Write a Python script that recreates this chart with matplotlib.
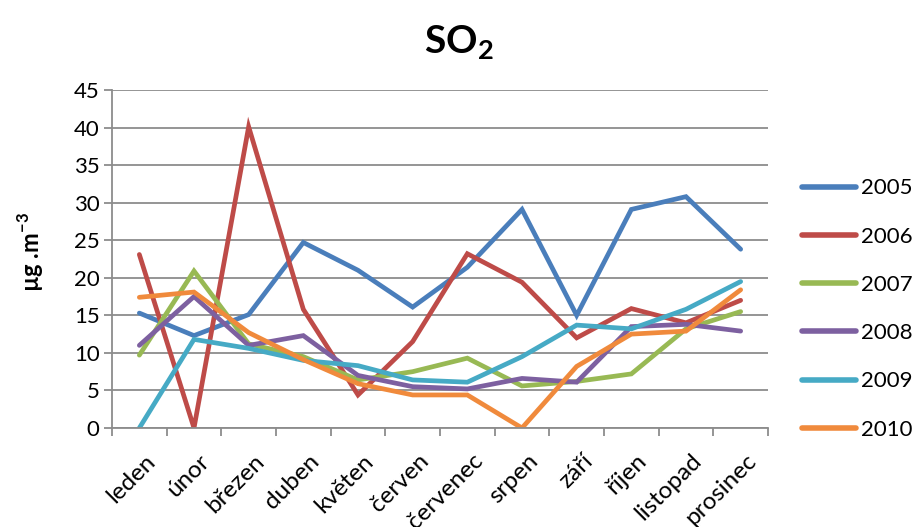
import matplotlib
matplotlib.use("Agg")
import matplotlib.pyplot as plt
import matplotlib.transforms as mtransforms
import numpy as np

plt.rcParams['font.family'] = ['Lato', 'DejaVu Sans']
plt.rcParams['mathtext.fontset'] = 'custom'
plt.rcParams['mathtext.rm'] = 'Lato'
plt.rcParams['mathtext.bf'] = 'Lato:bold'

months = ["leden", "únor", "březen", "duben", "květen", "červen",
          "červenec", "srpen", "září", "říjen", "listopad", "prosinec"]

so2_2005 = [15.3, 12.3, 15.1, 24.7, 21.0, 16.1, 21.4, 29.1, 15.0, 29.1, 30.8, 23.8]
so2_2006 = [23.1, 0.0, 40.1, 15.8, 4.4, 11.5, 23.2, 19.4, 12.0, 15.9, 14.0, 17.0]
so2_2007 = [9.7, 20.9, 11.2, 9.5, 6.4, 7.5, 9.3, 5.6, 6.2, 7.2, 13.2, 15.5]
so2_2008 = [11.0, 17.5, 11.0, 12.3, 7.0, 5.5, 5.2, 6.6, 6.1, 13.5, 13.8, 12.9]
so2_2009 = [0.0, 11.8, 10.6, 9.0, 8.3, 6.4, 6.1, 9.5, 13.7, 13.2, 15.8, 19.5]
so2_2010 = [17.4, 18.1, 12.7, 9.1, 5.9, 4.4, 4.4, 0.0, 8.2, 12.5, 12.9, 18.4]

years = ["2005", "2006", "2007", "2008", "2009", "2010"]
series = [so2_2005, so2_2006, so2_2007, so2_2008, so2_2009, so2_2010]
colors = ["#4A7EBB", "#BE4B48", "#98B954", "#7D60A0", "#46AAC5", "#F08A3C"]

fig = plt.figure(figsize=(9.18, 5.27), dpi=100)
ax = fig.add_axes([112 / 918, 1 - 428 / 527, (768 - 112) / 918, (428 - 90) / 527])

x = np.arange(len(months))
for vals, lab, col in zip(series, years, colors):
    ax.plot(x, vals, color=col, lw=3.4, label=lab, solid_capstyle='round',
            solid_joinstyle='miter')

grid_col = "#8C8C8C"
ax.set_xlim(-0.5, len(months) - 0.5)
ax.set_ylim(0, 45)
ax.set_yticks(np.arange(0, 46, 5))
ax.yaxis.grid(True, color=grid_col, lw=1.3)
ax.set_axisbelow(True)

# category boundaries carry the tick marks, centres carry the labels
ax.set_xticks(np.arange(-0.5, len(months), 1.0))
ax.set_xticklabels([])
ax.set_xticks(x, minor=True)
ax.set_xticklabels(months, minor=True, rotation=45, ha='right',
                   rotation_mode='anchor', fontsize=17.5)
ax.tick_params(axis='x', which='minor', length=0, pad=16)
ax.tick_params(axis='x', which='major', length=6, width=1.3, color=grid_col,
               direction='out')
ax.tick_params(axis='y', length=6, width=1.3, color=grid_col, direction='out',
               labelsize=16, pad=3)
shift = mtransforms.ScaledTranslation(5 / 100, 0, fig.dpi_scale_trans)
for lbl in ax.get_xticklabels(minor=True):
    lbl.set_transform(lbl.get_transform() + shift)

for side in ['top', 'right']:
    ax.spines[side].set_visible(False)
for side in ['left', 'bottom']:
    ax.spines[side].set_color(grid_col)
    ax.spines[side].set_linewidth(1.3)

fig.text(459 / 918, 1 - 42 / 527, r"$\mathbf{SO_2}$", ha='center', va='center',
         fontsize=28)
fig.text(31 / 918, 1 - 252 / 527, r"µg .m$^{\mathbf{-3}}$", rotation=90,
         ha='center', va='center', fontsize=17, fontweight='bold')

leg = fig.legend(loc='center left', bbox_to_anchor=(793 / 918, 1 - 309 / 527),
                 frameon=False, fontsize=16, handlelength=2.45,
                 handletextpad=0.2, labelspacing=1.27, borderaxespad=0)
for h in leg.get_lines():
    h.set_linewidth(4)
    h.set_solid_capstyle('round')

fig.savefig("out.png", dpi=100)
